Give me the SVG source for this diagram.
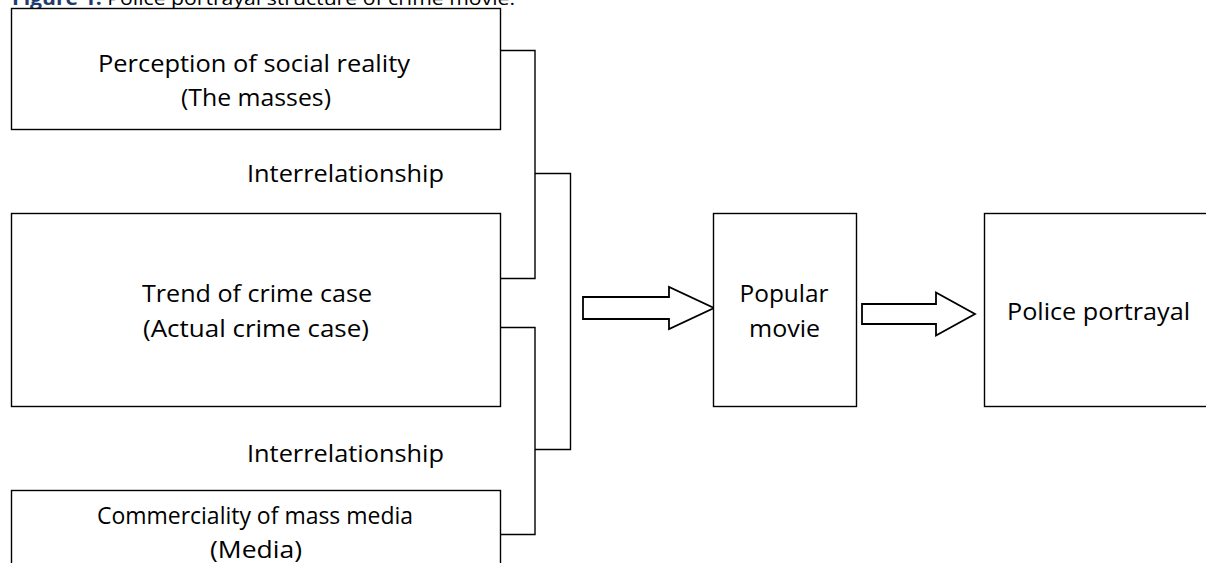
<svg xmlns="http://www.w3.org/2000/svg" width="1206" height="563" viewBox="0 0 1206 563">
<style>
.box{fill:#fff;stroke:#000;stroke-width:1.4}
.con{fill:none;stroke:#000;stroke-width:1.4}
.arr{fill:#fff;stroke:#000;stroke-width:1.8;stroke-linejoin:miter}
.t{font-family:"Open Sans",Lato,"Liberation Sans",sans-serif;font-size:24px;fill:#000;text-anchor:middle}
.title{font-family:"Open Sans",Lato,"Liberation Sans",sans-serif;font-size:19px;fill:#000}
</style>
<rect width="1206" height="563" fill="#fff"/>
<text class="title" x="12" y="5" textLength="503" lengthAdjust="spacingAndGlyphs"><tspan font-weight="bold" fill="#1F3A6E">Figure 1:</tspan> Police portrayal structure of crime movie.</text>
<g id="connectors">
<polyline class="con" points="500,50.5 535,50.5 535,278.5 500,278.5"/>
<polyline class="con" points="500,327.5 535,327.5 535,534.5 500,534.5"/>
<polyline class="con" points="535,173.5 570.5,173.5 570.5,449.5 535,449.5"/>
<polygon class="arr" points="583,297 669,297 669,287 714,308 669,329 669,319 583,319"/>
<polygon class="arr" points="862,304 936,304 936,292.5 975,314 936,335.5 936,324 862,324"/>
</g>
<g id="perception">
<rect class="box" x="11.5" y="8.5" width="489" height="121"/>
<text class="t" x="254" y="72" textLength="312" lengthAdjust="spacingAndGlyphs">Perception of social reality</text>
<text class="t" x="256" y="106" textLength="150" lengthAdjust="spacingAndGlyphs">(The masses)</text>
</g>
<g id="interrelationship1">
<text class="t" x="345.5" y="182" textLength="197" lengthAdjust="spacingAndGlyphs">Interrelationship</text>
</g>
<g id="trend">
<rect class="box" x="11.5" y="213.5" width="489" height="193"/>
<text class="t" x="257" y="302" textLength="230" lengthAdjust="spacingAndGlyphs">Trend of crime case</text>
<text class="t" x="256" y="337" textLength="226" lengthAdjust="spacingAndGlyphs">(Actual crime case)</text>
</g>
<g id="interrelationship2">
<text class="t" x="345.5" y="462" textLength="197" lengthAdjust="spacingAndGlyphs">Interrelationship</text>
</g>
<g id="commerciality">
<rect class="box" x="11.5" y="490.5" width="489" height="90"/>
<text class="t" x="255" y="524" textLength="316" lengthAdjust="spacingAndGlyphs">Commerciality of mass media</text>
<text class="t" x="256" y="558" textLength="92" lengthAdjust="spacingAndGlyphs">(Media)</text>
</g>
<g id="popular">
<rect class="box" x="713.5" y="213.5" width="143" height="193"/>
<text class="t" x="784" y="302" textLength="89" lengthAdjust="spacingAndGlyphs">Popular</text>
<text class="t" x="784.5" y="337" textLength="71" lengthAdjust="spacingAndGlyphs">movie</text>
</g>
<g id="police">
<rect class="box" x="984.5" y="213.5" width="240" height="193"/>
<text class="t" x="1098.5" y="320" textLength="183" lengthAdjust="spacingAndGlyphs">Police portrayal</text>
</g>
</svg>
